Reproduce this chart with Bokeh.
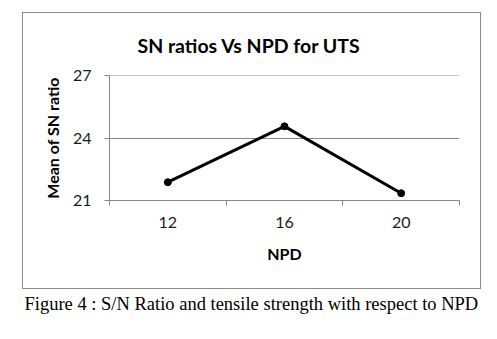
from bokeh.plotting import figure
from bokeh.models import Range1d, FixedTicker, Title, InlineStyleSheet
from bokeh.embed import file_html
from bokeh.resources import INLINE

npd = [12, 16, 20]
sn_mean = [21.88, 24.57, 21.35]
y_ticks = [21, 24, 27]
x_boundaries = [10, 14, 18, 22]
title_text = "SN ratios Vs NPD for UTS"
caption_text = "Figure 4 : S/N Ratio and tensile strength with respect to NPD"

FONT = "Lato"
GRAY = "#878787"

box_css = InlineStyleSheet(css="""
:host { position: relative; }
:host::after {
  content: "";
  position: absolute;
  left: 22px; top: 12px;
  width: 457px; height: 275px;
  border: 1px solid #8c8c8c;
  pointer-events: none;
}
""")

p = figure(width=497, height=339, output_backend="svg", toolbar_location=None,
           x_range=Range1d(10, 22), y_range=Range1d(21, 27.02),
           min_border_left=109, min_border_right=38, min_border_top=75, min_border_bottom=138,
           stylesheets=[box_css])
p.outline_line_color = None
p.background_fill_color = "white"
p.border_fill_color = "white"

p.line(npd, sn_mean, line_color="black", line_width=3)
p.scatter(npd, sn_mean, size=7, fill_color="black", line_color="black")

xa = p.xaxis[0]
xa.ticker = FixedTicker(ticks=npd, minor_ticks=x_boundaries)
xa.major_tick_line_color = None
xa.minor_tick_line_color = GRAY
xa.minor_tick_out = 5
xa.minor_tick_in = 0
xa.axis_line_color = GRAY
xa.major_label_text_font = FONT
xa.major_label_text_font_size = "16px"
xa.major_label_text_color = "#1a1a1a"
xa.major_label_standoff = 10
xa.axis_label = "NPD"
xa.axis_label_text_font = FONT
xa.axis_label_text_font_style = "bold"
xa.axis_label_text_font_size = "16px"
xa.axis_label_text_color = "black"
xa.axis_label_standoff = 13

ya = p.yaxis[0]
ya.ticker = FixedTicker(ticks=y_ticks, minor_ticks=[])
ya.major_tick_line_color = GRAY
ya.major_tick_out = 5
ya.major_tick_in = 0
ya.minor_tick_line_color = None
ya.axis_line_color = GRAY
ya.major_label_text_font = FONT
ya.major_label_text_font_size = "16px"
ya.major_label_text_color = "#1a1a1a"
ya.major_label_standoff = 13
ya.axis_label = "Mean of SN ratio"
ya.axis_label_text_font = FONT
ya.axis_label_text_font_style = "bold"
ya.axis_label_text_font_size = "16px"
ya.axis_label_text_color = "black"
ya.axis_label_standoff = 8

p.xgrid.grid_line_color = None
p.ygrid.ticker = FixedTicker(ticks=y_ticks)
p.ygrid.grid_line_color = GRAY
p.ygrid.grid_line_width = 1

p.add_layout(Title(text=title_text, align="left", offset=28, standoff=37,
                   text_font=FONT, text_font_style="bold", text_font_size="19.5px",
                   text_color="black"), "above")
p.add_layout(Title(text=caption_text, align="left", offset=-85, standoff=52,
                   text_font="Liberation Serif", text_font_style="normal",
                   text_font_size="18.5px", text_color="black"), "below")

open("out.html", "w").write(file_html(p, INLINE))
